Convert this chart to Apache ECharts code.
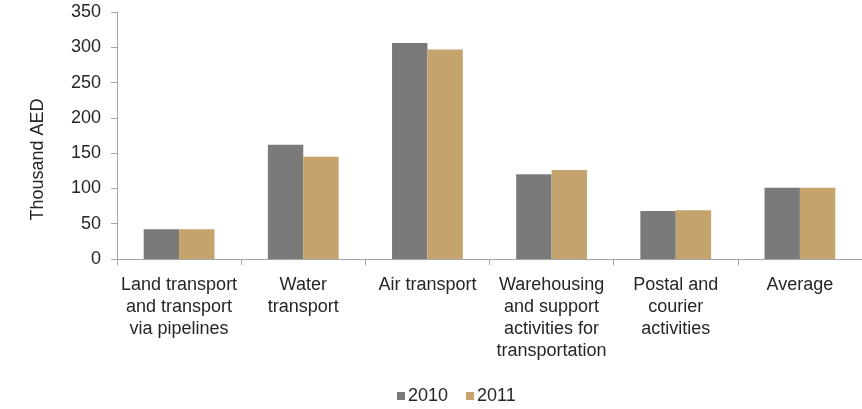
<!DOCTYPE html>
<html>
<head>
<meta charset="utf-8">
<script src="https://cdn.jsdelivr.net/npm/echarts@6/dist/echarts.min.js"></script>
<style>
html,body{margin:0;padding:0;background:#fff;}
#chart{width:862px;height:409px;}
</style>
</head>
<body>
<div id="chart"></div>
<script>
const categories = [
  "Land transport\nand transport\nvia pipelines",
  "Water\ntransport",
  "Air transport",
  "Warehousing\nand support\nactivities for\ntransportation",
  "Postal and\ncourier\nactivities",
  "Average"
];
const seriesNames = ["2010", "2011"];
const values2010 = [42, 162, 306, 120, 68, 101];
const values2011 = [42, 145, 297, 126, 69, 101];
const yTicks = { min: 0, max: 350, interval: 50 };
const yAxisTitle = "Thousand AED";

const chart = echarts.init(document.getElementById('chart'));
const font = "'Liberation Sans', Arial, sans-serif";
chart.setOption({
  animation: false,
  textStyle: { fontFamily: font },
  grid: { left: 117, top: 12, bottom: 150, right: -9 },
  legend: {
    data: seriesNames,
    left: 392,
    top: 382,
    itemWidth: 8,
    itemHeight: 8,
    itemGap: 18,
    icon: 'rect',
    textStyle: { fontSize: 18, color: '#262626', fontFamily: font, padding: [0,0,0,-2] }
  },
  xAxis: {
    type: 'category',
    data: categories,
    axisLine: { lineStyle: { color: '#a6a6a6', width: 1 } },
    axisTick: { show: true, length: 6, lineStyle: { color: '#a6a6a6' } },
    axisLabel: { fontSize: 18, color: '#262626', lineHeight: 22, margin: 15, interval: 0, fontFamily: font }
  },
  yAxis: {
    type: 'value',
    min: yTicks.min, max: yTicks.max, interval: yTicks.interval,
    name: yAxisTitle,
    nameLocation: 'middle',
    nameRotate: 90,
    nameGap: 70,
    nameTextStyle: { fontSize: 18, color: '#262626', fontFamily: font, padding: [0, 48, 0, 0] },
    axisLine: { show: true, lineStyle: { color: '#a6a6a6', width: 1 } },
    axisTick: { show: true, length: 6, lineStyle: { color: '#a6a6a6' } },
    splitLine: { show: false },
    axisLabel: { fontSize: 18, color: '#262626', margin: 16, fontFamily: font }
  },
  series: [
    { name: seriesNames[0], type: 'bar', data: values2010, itemStyle: { color: '#7a7a7a' }, barGap: '0%', barCategoryGap: '43%' },
    { name: seriesNames[1], type: 'bar', data: values2011, itemStyle: { color: '#c4a46c' }, barGap: '0%', barCategoryGap: '43%' }
  ]
});
</script>
</body>
</html>
